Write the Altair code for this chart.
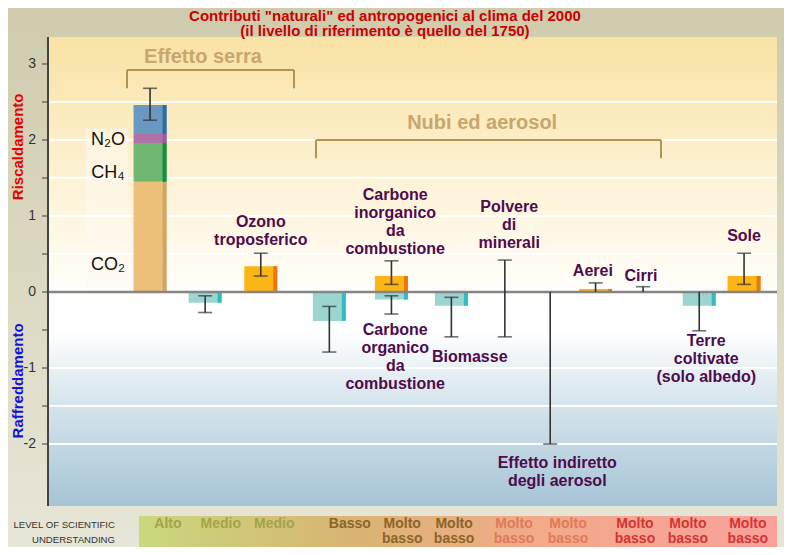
import altair as alt
import pandas as pd

# ---------------- data ----------------
ghg_names = ["CO₂", "CH₄", "N₂O", "Alocarburi"]
ghg_values = [1.45, 0.51, 0.12, 0.38]
ghg_slot = 1.89
ghg_lo, ghg_hi = 2.26, 2.68

forc_names = ["Ozono stratosferico", "Ozono troposferico", "Solfati",
              "Carbone inorganico", "Carbone organico", "Biomasse",
              "Polvere di minerali", "Effetto indiretto", "Aerei", "Cirri",
              "Terre coltivate", "Sole"]
forc_slot = [2.91, 3.94, 5.21, 6.36, 6.36, 7.47, 8.46, 9.30, 10.14, 11.02, 12.06, 12.89]
forc_values = [-0.14, 0.34, -0.38, 0.21, -0.10, -0.18, None, None, 0.04, None, -0.18, 0.21]
forc_lo = [-0.27, 0.21, -0.79, 0.10, -0.29, -0.59, -0.59, -2.00, 0.0, 0.0, -0.51, 0.10]
forc_hi = [-0.05, 0.51, -0.19, 0.41, -0.05, -0.07, 0.42, 0.0, 0.12, 0.07, 0.0, 0.51]

losu_labels = ["Alto", "Medio", "Medio", "Basso", "Molto\nbasso", "Molto\nbasso",
               "Molto\nbasso", "Molto\nbasso", "Molto\nbasso", "Molto\nbasso", "Molto\nbasso"]
losu_slot = [2.22, 3.20, 4.19, 5.59, 6.56, 7.52, 8.63, 9.63, 10.87, 11.85, 12.96]
losu_class = ["a", "a", "a", "b", "b", "b", "c", "c", "d", "d", "d"]

ann_text = ["Ozono\ntroposferico", "Carbone\ninorganico\nda\ncombustione",
            "Polvere\ndi\nminerali", "Aerei", "Cirri", "Sole",
            "Carbone\norganico\nda\ncombustione", "Biomasse",
            "Effetto indiretto\ndegli aerosol", "Terre\ncoltivate\n(solo albedo)"]
ann_slot = [3.94, 6.43, 8.54, 10.09, 10.98, 12.89, 6.43, 7.81, 9.43, 12.19]
ann_y = [0.92, 1.276, 1.118, 0.28, 0.21, 0.74, -0.50, -0.86, -2.25, -0.645]  # first line

gas_text = ["N₂O", "CH₄", "CO₂"]
gas_slot = [1.11, 1.11, 1.11]
gas_y = [2.00, 1.57, 0.36]

grid_vals = [-2, -1.5, -1, -0.5, 0.5, 1, 1.5, 2, 2.5]
tick_vals = [-2, -1.5, -1, -0.5, 0, 0.5, 1, 1.5, 2, 2.5, 3]
label_vals = [-2, -1, 0, 1, 2, 3]

# ---------------- layout constants ----------------
W, H = 729, 510
PAD_L, PAD_T, PAD_R = 40, 29, 7
XMAX = 13.5
YTOP, YBOT, YMIN = 3.355, -2.816, -3.355
FONT = "Liberation Sans"
PX_X = XMAX / W
PX_Y = (YTOP - YMIN) / H

xs = alt.Scale(domain=[0, XMAX], nice=False, zero=False, padding=0)
ys = alt.Scale(domain=[YMIN, YTOP], nice=False, zero=False, padding=0)


def X(f):
    return alt.X(f, type="quantitative", scale=xs, axis=None)


def Y(f):
    return alt.Y(f, type="quantitative", scale=ys, axis=None)


def grad(stops, horizontal=False):
    return alt.LinearGradient(
        gradient="linear", x1=0, y1=0, x2=1 if horizontal else 0, y2=0 if horizontal else 1,
        stops=[alt.GradientStop(offset=o, color=c) for o, c in stops])


def box(x0, x1, y0, y1):
    return pd.DataFrame({"x0": [x0], "x1": [x1], "y0": [y0], "y1": [y1]})


# ---------------- tables ----------------
rows = []
cum = 0.0
for n, v in zip(ghg_names, ghg_values):
    rows.append({"name": n, "slot": ghg_slot, "kind": n, "top": cum + v, "bot": cum})
    cum += v
for n, s, v in zip(forc_names, forc_slot, forc_values):
    if v is None:
        continue
    rows.append({"name": n, "slot": s, "kind": "pos" if v > 0 else "neg",
                 "top": max(v, 0), "bot": min(v, 0)})
bars = pd.DataFrame(rows)

err = pd.DataFrame({"slot": [ghg_slot] + forc_slot,
                    "lo": [ghg_lo] + forc_lo, "hi": [ghg_hi] + forc_hi})
caps = pd.concat([err[["slot"]].assign(v=err["lo"]), err[["slot"]].assign(v=err["hi"])])
caps = caps[caps["v"] != 0]

ann = pd.DataFrame({"text": ann_text, "slot": ann_slot, "y": ann_y})
gas = pd.DataFrame({"text": gas_text, "slot": gas_slot, "y": gas_y})
losu = pd.DataFrame({"text": losu_labels, "slot": losu_slot, "cls": losu_class})
losu["y"] = -3.053

kind_dom = ["CO₂", "CH₄", "N₂O", "Alocarburi", "pos", "neg"]
main_col = ["#ecc07a", "#70b870", "#b070a8", "#6a98c0", "#fbb514", "#9cd4d0"]
edge_col = ["#cfa66a", "#109040", "#9c5a96", "#2a70a0", "#e8780e", "#2fbcc6"]

# ---------------- layers ----------------
outer_bg = alt.Chart(box(-PAD_L * PX_X, XMAX + PAD_R * PX_X, YTOP + PAD_T * PX_Y, YMIN)).mark_rect(
    fill=grad([(0, "#cfcbac"), (0.5, "#dcd9c2"), (1, "#e7e5d7")])
).encode(x=X("x0"), x2="x1", y=Y("y0"), y2="y1")

plot_bg = alt.Chart(box(0, XMAX, YTOP, YBOT)).mark_rect(
    fill=grad([(0, "#f9e2a4"), (0.25, "#fcefcc"), (0.48, "#fffbf0"), (0.56, "#ffffff"),
               (0.64, "#fcfdfe"), (0.75, "#dde9ef"), (0.9, "#bcd3e0"), (1, "#a6c4d6")])
).encode(x=X("x0"), x2="x1", y=Y("y0"), y2="y1")

label_box = alt.Chart(box(0.70, 1.48, 2.15, 0.05)).mark_rect(
    fill="#fffaf0", opacity=0.55
).encode(x=X("x0"), x2="x1", y=Y("y0"), y2="y1")

losu_bg = alt.Chart(box(1.685, XMAX, -2.947, YMIN)).mark_rect(
    fill=grad([(0, "#c9d87e"), (0.33, "#d8b472"), (0.6, "#f0ab88"), (1, "#faa09c")], horizontal=True)
).encode(x=X("x0"), x2="x1", y=Y("y0"), y2="y1")

grid = alt.Chart(pd.DataFrame({"v": grid_vals})).mark_rule(
    color="white", strokeWidth=2, opacity=0.95
).encode(y=Y("v"))

bar_main = alt.Chart(bars).mark_bar(width=33).encode(
    x=X("slot"), y=Y("top"), y2="bot",
    color=alt.Color("kind:N", scale=alt.Scale(domain=kind_dom, range=main_col), legend=None))

bar_edge = alt.Chart(bars).mark_bar(width=4, xOffset=14.5).encode(
    x=X("slot"), y=Y("top"), y2="bot",
    fill=alt.Fill("kind:N", scale=alt.Scale(domain=kind_dom, range=edge_col), legend=None))

zero = alt.Chart(pd.DataFrame({"v": [0]})).mark_rule(color="#858585", strokeWidth=2.5).encode(y=Y("v"))

axis_line = alt.Chart(pd.DataFrame({"x": [0], "y0": [YTOP], "y1": [YBOT]})).mark_rule(
    color="#444", strokeWidth=2).encode(x=X("x"), y=Y("y0"), y2="y1")

ticks = alt.Chart(pd.DataFrame({"x": [0] * len(tick_vals), "v": tick_vals})).mark_tick(
    orient="horizontal", size=6, thickness=1.5, color="#444", xOffset=-3
).encode(x=X("x"), y=Y("v"))

tick_labels = alt.Chart(pd.DataFrame({"x": [0] * len(label_vals), "v": label_vals,
                                      "t": [str(v) for v in label_vals]})).mark_text(
    font=FONT, fontSize=14, color="#333", align="right", baseline="middle", dx=-12
).encode(x=X("x"), y=Y("v"), text="t")

err_rule = alt.Chart(err).mark_rule(color="#333", strokeWidth=1.6).encode(
    x=X("slot"), y=Y("lo"), y2="hi")
err_cap = alt.Chart(caps).mark_tick(orient="horizontal", size=14, thickness=1.6, color="#333").encode(
    x=X("slot"), y=Y("v"))

labels = alt.Chart(ann).mark_text(font=FONT, fontSize=16, fontWeight="bold", color="#4e0b4e",
                                  lineHeight=18, lineBreak="\n", align="center",
                                  baseline="middle").encode(
    x=X("slot"), y=Y("y"), text="text")

gas_lab = alt.Chart(gas).mark_text(font=FONT, fontSize=18, color="#111", align="center",
                                   baseline="middle").encode(x=X("slot"), y=Y("y"), text="text")

# group brackets
br_h = pd.DataFrame({"x0": [1.463, 4.963], "x1": [4.556, 11.352], "y": [2.92, 2.0]})
br_v = pd.DataFrame({"x": [1.463, 4.556, 4.963, 11.352], "y0": [2.92, 2.92, 2.0, 2.0],
                     "y1": [2.68, 2.68, 1.76, 1.76]})
bracket_h = alt.Chart(br_h).mark_rule(color="#b39455", strokeWidth=2).encode(
    x=X("x0"), x2="x1", y=Y("y"))
bracket_v = alt.Chart(br_v).mark_rule(color="#b39455", strokeWidth=2).encode(
    x=X("x"), y=Y("y0"), y2="y1")
group_lab = alt.Chart(pd.DataFrame({"text": ["Effetto serra", "Nubi ed aerosol"],
                                    "x": [2.87, 8.04], "y": [3.09, 2.22]})).mark_text(
    font=FONT, fontSize=20, fontWeight="bold", color="#c9a66c", align="center", baseline="middle"
).encode(x=X("x"), y=Y("y"), text="text")

title = alt.Chart(pd.DataFrame({
    "text": ["Contributi \"naturali\" ed antropogenici al clima del 2000",
             "(il livello di riferimento è quello del 1750)"],
    "x": [6.24, 6.24], "y": [3.632, 3.428]})).mark_text(
    font=FONT, fontSize=15, fontWeight="bold", color="#cc0000", align="center", baseline="middle"
).encode(x=X("x"), y=Y("y"), text="text")

side_r = alt.Chart(pd.DataFrame({"text": ["Riscaldamento"], "y": [1.91]})).mark_text(
    font=FONT, fontSize=15, fontWeight="bold", angle=270, align="center", baseline="middle",
    color="#e80000"
).encode(x=alt.value(-30), y=Y("y"), text="text")

side_b = alt.Chart(pd.DataFrame({"text": ["Raffreddamento"], "y": [-1.17]})).mark_text(
    font=FONT, fontSize=15, fontWeight="bold", angle=270, align="center", baseline="middle",
    color="#1414d8"
).encode(x=alt.value(-30), y=Y("y"), text="text")

losu_lab = alt.Chart(losu).mark_text(font=FONT, fontSize=14, fontWeight="bold", lineHeight=15,
                                     lineBreak="\n", align="center", baseline="middle").encode(
    x=X("slot"), y=Y("y"), text="text",
    color=alt.Color("cls:N", scale=alt.Scale(domain=["a", "b", "c", "d"],
                                             range=["#a3a448", "#8c6428", "#e07a58", "#d43434"]),
                    legend=None))

losu_cap = alt.Chart(pd.DataFrame({"text": ["LEVEL OF SCIENTIFIC\nUNDERSTANDING"],
                                   "x": [1.24], "y": [-3.07]})).mark_text(
    font=FONT, fontSize=9.6, color="#333", lineHeight=15, lineBreak="\n", align="right",
    baseline="middle"
).encode(x=X("x"), y=Y("y"), text="text")

chart = alt.layer(
    outer_bg, plot_bg, label_box, losu_bg, grid, bar_main, bar_edge, zero, err_rule, err_cap,
    axis_line, ticks, tick_labels, bracket_h, bracket_v, group_lab, labels, gas_lab, title,
    side_r, side_b, losu_lab, losu_cap
).resolve_scale(color="independent", fill="independent").properties(
    width=W, height=H,
    autosize=alt.AutoSizeParams(type="none"),
    padding={"left": PAD_L, "top": PAD_T, "right": PAD_R, "bottom": 0},
    background="#dcd9c2"
).configure_view(stroke=None)

chart.save("out.html", embed_options={"renderer": "svg", "actions": False})
